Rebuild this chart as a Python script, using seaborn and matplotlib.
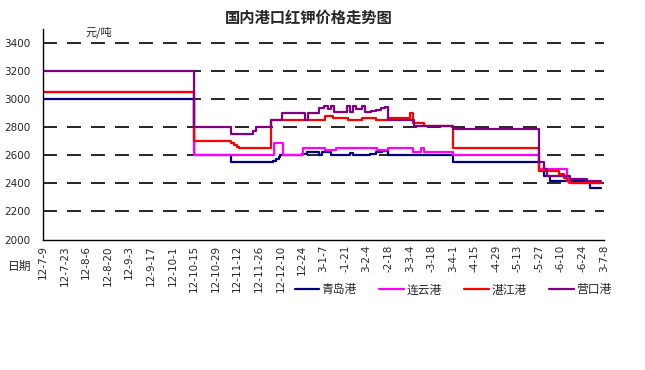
import pandas as pd
import matplotlib
matplotlib.use("Agg")
import matplotlib.pyplot as plt
import seaborn as sns

# price data (step changes)
qingdao_dates = ['2012-07-09', '2012-10-15', '2012-11-08', '2012-12-05', '2012-12-07', '2012-12-09',
                 '2012-12-10', '2012-12-24', '2012-12-27', '2013-01-04', '2013-01-06', '2013-01-12',
                 '2013-01-24', '2013-01-26', '2013-02-06', '2013-02-10', '2013-02-14', '2013-02-17',
                 '2013-02-18', '2013-04-01', '2013-05-27', '2013-05-30', '2013-06-03', '2013-06-26',
                 '2013-06-29', '2013-07-06']
qingdao_vals = [3000, 2600, 2550, 2560, 2575, 2590, 2600, 2610, 2620, 2600, 2620, 2600, 2615, 2600,
                2610, 2620, 2630, 2640, 2600, 2550, 2500, 2450, 2420, 2410, 2370, 2370]

lianyun_dates = ['2012-07-09', '2012-10-15', '2012-12-06', '2012-12-12', '2012-12-25', '2013-01-08',
                 '2013-01-15', '2013-01-29', '2013-02-11', '2013-02-18', '2013-03-06', '2013-03-11',
                 '2013-03-13', '2013-04-01', '2013-05-27', '2013-06-14', '2013-06-15', '2013-07-06']
lianyun_vals = [3050, 2600, 2690, 2600, 2650, 2640, 2650, 2655, 2640, 2650, 2620, 2650, 2620, 2600,
                2500, 2450, 2400, 2400]

zhanjiang_dates = ['2012-07-09', '2012-10-15', '2012-11-08', '2012-11-10', '2012-11-12', '2012-11-13',
                   '2012-12-04', '2013-01-08', '2013-01-13', '2013-01-23', '2013-02-01', '2013-02-10',
                   '2013-02-18', '2013-03-04', '2013-03-06', '2013-03-13', '2013-04-01', '2013-05-27',
                   '2013-06-09', '2013-06-12', '2013-06-14', '2013-06-16', '2013-07-06']
zhanjiang_vals = [3050, 2700, 2690, 2675, 2660, 2650, 2850, 2880, 2865, 2850, 2865, 2850, 2865, 2900,
                  2830, 2810, 2650, 2490, 2470, 2440, 2420, 2400, 2400]

yingkou_dates = ['2012-07-09', '2012-10-15', '2012-11-08', '2012-11-22', '2012-11-24', '2012-12-04',
                 '2012-12-11', '2012-12-26', '2012-12-28', '2013-01-04', '2013-01-07', '2013-01-10',
                 '2013-01-12', '2013-01-14', '2013-01-22', '2013-01-24', '2013-01-26', '2013-01-28',
                 '2013-02-01', '2013-02-03', '2013-02-07', '2013-02-10', '2013-02-13', '2013-02-16',
                 '2013-02-18', '2013-03-07', '2013-04-01', '2013-05-27', '2013-05-30', '2013-06-01',
                 '2013-06-16', '2013-06-27', '2013-07-06']
yingkou_vals = [3200, 2800, 2750, 2775, 2800, 2850, 2900, 2850, 2900, 2940, 2950, 2930, 2950, 2905,
                2950, 2910, 2950, 2930, 2950, 2905, 2915, 2925, 2935, 2945, 2855, 2810, 2785, 2550,
                2500, 2450, 2430, 2415, 2415]

tick_labels = ['12-7-9', '12-7-23', '12-8-6', '12-8-20', '12-9-3', '12-9-17', '12-10-1', '12-10-15',
               '12-10-29', '12-11-12', '12-11-26', '12-12-10', '12-24', '3-1-7', '-1-21', '3-2-4',
               '-2-18', '3-3-4', '-3-18', '3-4-1', '-4-15', '-4-29', '-5-13', '-5-27', '-6-10',
               '-6-24', '3-7-8']

series = [
    ('青岛港', qingdao_dates, qingdao_vals, '#000080'),
    ('连云港', lianyun_dates, lianyun_vals, '#ff00ff'),
    ('湛江港', zhanjiang_dates, zhanjiang_vals, '#ff0000'),
    ('营口港', yingkou_dates, yingkou_vals, '#800080'),
]

sns.set_style("white")
plt.rcParams['font.family'] = ['DejaVu Sans', 'Noto Sans CJK SC']
cjk = ['Noto Sans CJK SC', 'DejaVu Sans']

fig = plt.figure(figsize=(6.45, 3.70), dpi=100)
ax = fig.add_axes([43 / 645, 1 - 239.5 / 370, 561 / 645, 210.5 / 370])

for name, dates, vals, color in series:
    d = pd.DataFrame({'date': pd.to_datetime(dates), 'price': vals})
    sns.lineplot(data=d, x='date', y='price', ax=ax, color=color, linewidth=1.6,
                 drawstyle='steps-post', label=name)

start = pd.Timestamp('2012-07-09')
ticks = [start + pd.Timedelta(days=14 * i) for i in range(len(tick_labels))]
ax.set_xlim(ticks[0], ticks[-1])
ax.set_xticks(ticks)
ax.set_xticklabels(tick_labels, rotation=90, fontsize=7.5)
ax.set_ylim(2000, 3500)
ax.set_yticks(range(2000, 3401, 200))
ax.tick_params(axis='y', length=0, pad=9, labelsize=7.5)
ax.tick_params(axis='x', direction='in', length=4, width=1, color='black', pad=4)

# dashed grid lines
for v in range(2200, 3401, 200):
    ax.axhline(v, color='black', linewidth=1.2, linestyle=(0, (8.4, 6)), zorder=0)

for s in ['top', 'right']:
    ax.spines[s].set_visible(False)
for s in ['left', 'bottom']:
    ax.spines[s].set_color('black')
    ax.spines[s].set_linewidth(1)

ax.set_xlabel('')
ax.set_ylabel('')

handles, labels = ax.get_legend_handles_labels()
ax.legend_.remove()
fig.legend(handles, labels, loc='center', bbox_to_anchor=(453 / 645, 1 - 290 / 370), ncol=4,
           frameon=False, prop={'family': cjk, 'size': 8.5}, handlelength=2.1,
           handletextpad=0.2, columnspacing=1.9)

fig.text(309 / 645, 1 - 18 / 370, '国内港口红钾价格走势图', ha='center', va='center',
         fontsize=11, fontweight='bold', family=cjk)
fig.text(86 / 645, 1 - 32.5 / 370, '元/吨', ha='left', va='center', fontsize=8, family=cjk)
fig.text(8 / 645, 1 - 266 / 370, '日期', ha='left', va='center', fontsize=8.5, family=cjk)

fig.savefig('out.png', dpi=100)
